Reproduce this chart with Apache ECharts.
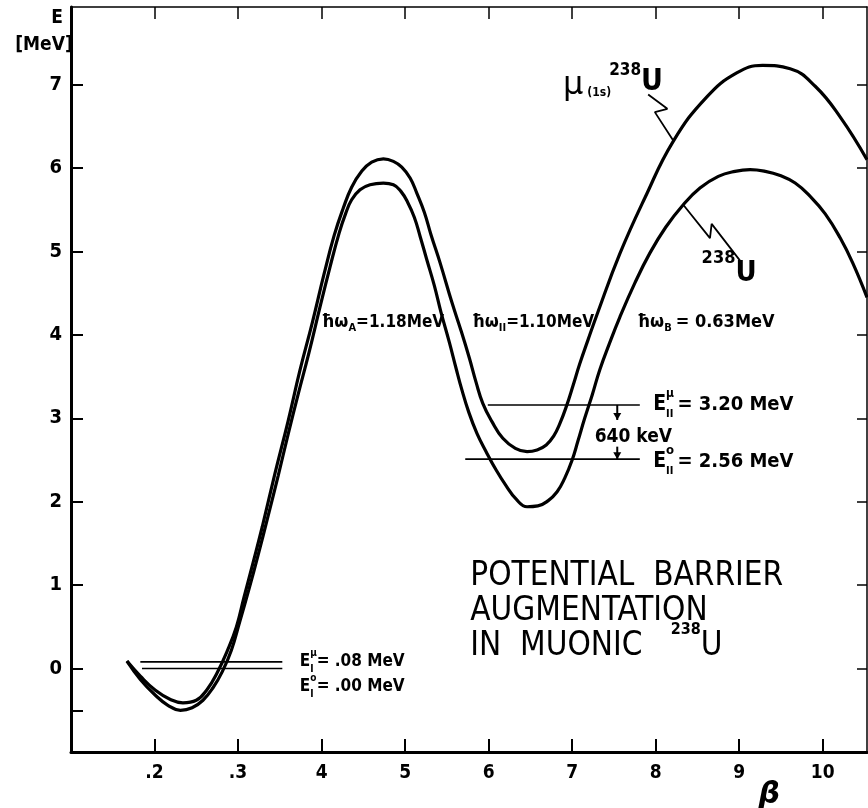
<!DOCTYPE html>
<html>
<head>
<meta charset="utf-8">
<title>Potential barrier augmentation in muonic 238U</title>
<script src="https://cdn.jsdelivr.net/npm/echarts@6/dist/echarts.min.js"></script>
<style>html,body{margin:0;padding:0;background:#fff;}</style>
</head>
<body>
<div id="main" style="width:868px;height:808px;"></div>
<script>
// deformation beta vs. energy E [MeV]
var muonicU = [[1.67,0.09],[1.83,-0.09],[2.01,-0.26],[2.19,-0.37],[2.34,-0.41],[2.50,-0.38],[2.63,-0.25],
    [2.75,-0.05],[2.87,0.21],[2.98,0.50],[3.07,0.85],[3.18,1.27],[3.29,1.70],[3.44,2.33],[3.60,2.97],[3.74,3.57],
    [3.89,4.15],[4.03,4.73],[4.15,5.19],[4.26,5.52],[4.36,5.77],[4.48,5.96],[4.60,6.07],[4.74,6.11],[4.86,6.08],
    [4.96,6.01],[5.06,5.88],[5.14,5.70],[5.23,5.47],[5.31,5.20],[5.42,4.86],[5.56,4.39],[5.67,4.05],[5.77,3.72],
    [5.85,3.43],[5.93,3.18],[6.04,2.96],[6.17,2.76],[6.32,2.64],[6.46,2.60],[6.58,2.62],[6.69,2.68],[6.78,2.79],
    [6.85,2.93],[6.93,3.14],[7.01,3.39],[7.09,3.65],[7.19,3.94],[7.30,4.25],[7.57,4.97],[7.87,5.64],[8.21,6.32],
    [8.61,6.85],[8.97,7.14],[9.28,7.23],[9.61,7.19],[9.91,6.98],[10.21,6.61],[10.53,6.10]];
var plainU = [[1.67,0.09],[1.83,-0.13],[2.01,-0.32],[2.16,-0.44],[2.31,-0.50],[2.45,-0.47],[2.58,-0.38],
    [2.70,-0.23],[2.81,-0.04],[2.92,0.22],[3.02,0.56],[3.13,0.95],[3.24,1.36],[3.36,1.83],[3.48,2.31],[3.60,2.81],
    [3.72,3.29],[3.85,3.79],[3.98,4.33],[4.10,4.81],[4.21,5.22],[4.29,5.46],[4.36,5.62],[4.46,5.74],[4.58,5.80],
    [4.74,5.82],[4.86,5.80],[4.95,5.72],[5.03,5.59],[5.11,5.41],[5.18,5.18],[5.26,4.90],[5.35,4.59],[5.43,4.27],
    [5.53,3.91],[5.61,3.60],[5.68,3.34],[5.76,3.08],[5.86,2.82],[5.97,2.60],[6.09,2.38],[6.21,2.19],[6.33,2.03],
    [6.46,1.94],[6.59,1.95],[6.71,2.01],[6.82,2.12],[6.91,2.28],[7.00,2.50],[7.07,2.73],[7.15,3.00],[7.24,3.28],
    [7.33,3.58],[7.44,3.88],[7.57,4.21],[7.75,4.62],[7.93,4.98],[8.12,5.29],[8.33,5.56],[8.53,5.76],[8.75,5.90],
    [8.95,5.96],[9.13,5.98],[9.31,5.96],[9.49,5.91],[9.67,5.82],[9.85,5.66],[10.03,5.45],[10.21,5.16],[10.36,4.86],
    [10.53,4.45]];

// level lines: energy, beta from, beta to
var levelValues = [0.08, 0.00, 3.16, 2.51];
var levelFrom = [1.83, 1.85, 5.99, 5.72];
var levelTo = [3.53, 3.53, 7.81, 7.81];

// leaders from the curve labels to the curves
var muLeader = [[7.91,6.88],[8.14,6.71],[7.99,6.67],[8.21,6.33]];
var plainLeader = [[8.33,5.56],[8.65,5.16],[8.67,5.33],[9.01,4.89]];

var xTicks = [2,3,4,5,6,7,8,9,10];
var xTickLabels = ['.2','.3','4','5','6','7','8','9','10'];
var yTicks = [0,1,2,3,4,5,6,7];

var FONT = "'DejaVu Sans Condensed', 'Liberation Sans Narrow', 'DejaVu Sans', sans-serif";
var chart = echarts.init(document.getElementById('main'));

function frameAxis(extra) {
    return Object.assign({
        type: 'value',
        splitLine: {show: false},
        axisLine: {onZero: false, lineStyle: {color: '#000', width: 1.5}},
        axisTick: {inside: true, length: 12, lineStyle: {color: '#000', width: 2}},
        axisLabel: {show: false}
    }, extra);
}

var series = [
    {name: 'mu238U', type: 'line', data: muonicU, smooth: 0.45, symbol: 'none',
        lineStyle: {color: '#000', width: 3.2}},
    {name: '238U', type: 'line', data: plainU, smooth: 0.45, symbol: 'none',
        lineStyle: {color: '#000', width: 3.2}},
    {type: 'line', data: muLeader, symbol: 'none', lineStyle: {color: '#000', width: 1.8}},
    {type: 'line', data: plainLeader, symbol: 'none', lineStyle: {color: '#000', width: 1.8}}
];
levelValues.forEach(function (v, i) {
    series.push({type: 'line', data: [[levelFrom[i], v], [levelTo[i], v]], symbol: 'none',
        lineStyle: {color: '#000', width: 1.6}});
});

chart.setOption({
    animation: false,
    backgroundColor: '#fff',
    grid: {left: 71, right: 1, top: 7, bottom: 56},
    xAxis: [
        frameAxis({min: 1, max: 10.53,
            axisLine: {onZero: false, lineStyle: {color: '#000', width: 3}},
            axisTick: {inside: true, length: 13, customValues: xTicks, lineStyle: {color: '#000', width: 2}},
            axisLabel: {show: true, customValues: xTicks, margin: 12, color: '#000', fontSize: 19,
                fontWeight: 'bold', fontFamily: FONT,
                formatter: function (v) { return xTickLabels[xTicks.indexOf(v)]; }}}),
        frameAxis({min: 1, max: 10.53, position: 'top',
            axisTick: {inside: true, length: 12, customValues: xTicks, lineStyle: {color: '#000', width: 1.5}}})
    ],
    yAxis: [
        frameAxis({min: -1, max: 7.93,
            axisLine: {onZero: false, lineStyle: {color: '#000', width: 3}},
            axisTick: {inside: true, length: 12, customValues: [-0.5].concat(yTicks),
                lineStyle: {color: '#000', width: 2}},
            axisLabel: {show: true, customValues: yTicks, margin: 9, color: '#000', fontSize: 20,
                fontWeight: 'bold', fontFamily: FONT}}),
        frameAxis({min: -1, max: 7.93, position: 'right',
            axisTick: {inside: true, length: 10, customValues: yTicks, lineStyle: {color: '#000', width: 1.5}}})
    ],
    series: series
});

// ---- text annotations, anchored in data coordinates ----
var ctx = document.createElement('canvas').getContext('2d');
function toPx(p) { return chart.convertToPixel({xAxisIndex: 0, yAxisIndex: 0}, p); }

// parts: {t: text, s: size, dy: vertical offset, w: weight, stay: don't advance, pre/gap: extra advance}
function runs(p, parts, out) {
    var x = p[0];
    parts.forEach(function (r) {
        var w = r.w || 'bold';
        x += r.pre || 0;
        out.push({type: 'text', x: x, y: p[1] + (r.dy || 0), silent: true,
            style: {text: r.t, fill: '#000', fontSize: r.s, fontWeight: w, fontFamily: r.f || FONT,
                textVerticalAlign: 'middle', verticalAlign: 'middle'}});
        if (!r.stay) {
            ctx.font = w + ' ' + r.s + 'px ' + (r.f || FONT);
            x += ctx.measureText(r.t).width + (r.gap || 0);
        }
    });
    return out;
}

var g = [];
// barrier curvature labels
runs(toPx([4.00, 4.15]), [{t: 'ħω', s: 18}, {t: 'A', s: 11, dy: 6}, {t: '=1.18MeV', s: 17}], g);
runs(toPx([5.80, 4.15]), [{t: 'ħω', s: 18}, {t: 'II', s: 11, dy: 6}, {t: '=1.10MeV', s: 17}], g);
runs(toPx([7.78, 4.15]), [{t: 'ħω', s: 18}, {t: 'B', s: 11, dy: 6, gap: 4}, {t: '= 0.63MeV', s: 18}], g);
// second-well levels
runs(toPx([7.97, 3.16]), [{t: 'E', s: 21}, {t: 'μ', s: 12, dy: -11, stay: true}, {t: 'II', s: 11, dy: 9, gap: 4},
    {t: '= 3.20 MeV', s: 20}], g);
runs(toPx([7.97, 2.48]), [{t: 'E', s: 21}, {t: 'o', s: 13, dy: -11, stay: true}, {t: 'II', s: 11, dy: 9, gap: 4},
    {t: '= 2.56 MeV', s: 20}], g);
runs(toPx([7.27, 2.78]), [{t: '640 keV', s: 19}], g);
// ground state levels
runs(toPx([3.74, 0.08]), [{t: 'E', s: 17}, {t: 'μ', s: 10, dy: -8, stay: true}, {t: 'I', s: 10, dy: 8, gap: 3},
    {t: '= .08 MeV', s: 17}], g);
runs(toPx([3.74, -0.21]), [{t: 'E', s: 17}, {t: 'o', s: 10, dy: -8, stay: true}, {t: 'I', s: 10, dy: 8, gap: 3},
    {t: '= .00 MeV', s: 17}], g);
// curve labels
runs(toPx([6.89, 6.99]), [{t: 'μ', s: 32, w: 'normal', f: 'DejaVu Sans'}, {t: '(1s)', s: 12, dy: 7, pre: 4, gap: -2},
    {t: '238', s: 17, dy: -15}, {t: 'U', s: 30, dy: -3}], g);
runs(toPx([8.55, 4.89]), [{t: '238', s: 18, dy: -2}, {t: 'U', s: 29, dy: 13}], g);
// title block
runs(toPx([5.78, 1.10]), [{t: 'POTENTIAL  BARRIER', s: 33, w: 'normal'}], g);
runs(toPx([5.78, 0.68]), [{t: 'AUGMENTATION', s: 33, w: 'normal'}], g);
runs(toPx([5.78, 0.26]), [{t: 'IN  MUONIC   ', s: 33, w: 'normal'}, {t: '238', s: 16, dy: -17},
    {t: 'U', s: 33, w: 'normal'}], g);

// 640 keV arrows between the two second-well levels
function arrow(x, yFrom, yTo) {
    var a = toPx([x, yFrom]), b = toPx([x, yTo]);
    var d = b[1] > a[1] ? 1 : -1;
    g.push({type: 'line', silent: true, shape: {x1: a[0], y1: a[1], x2: b[0], y2: b[1]},
        style: {stroke: '#000', lineWidth: 2}});
    g.push({type: 'polygon', silent: true,
        shape: {points: [[b[0] - 4, b[1] - d * 7], [b[0] + 4, b[1] - d * 7], [b[0], b[1]]]},
        style: {fill: '#000'}});
}
arrow(7.54, levelValues[2], 2.98);
arrow(7.54, 2.66, levelValues[3]);

// axis titles
g.push({type: 'text', x: 57, y: 18, style: {text: 'E', fontSize: 19, fontWeight: 'bold', fontFamily: FONT,
    fill: '#000', textAlign: 'center', align: 'center', textVerticalAlign: 'middle', verticalAlign: 'middle'}});
g.push({type: 'text', x: 44, y: 45, style: {text: '[MeV]', fontSize: 19, fontWeight: 'bold', fontFamily: FONT,
    fill: '#000', textAlign: 'center', align: 'center', textVerticalAlign: 'middle', verticalAlign: 'middle'}});
var bp = toPx([9.36, -1.52]);
g.push({type: 'text', x: bp[0], y: bp[1], style: {text: 'β', fontSize: 30, fontWeight: 'bold', fontStyle: 'italic',
    fontFamily: 'DejaVu Sans', fill: '#000', textAlign: 'center', align: 'center',
    textVerticalAlign: 'middle', verticalAlign: 'middle'}});

chart.setOption({graphic: g});
</script>
</body>
</html>
